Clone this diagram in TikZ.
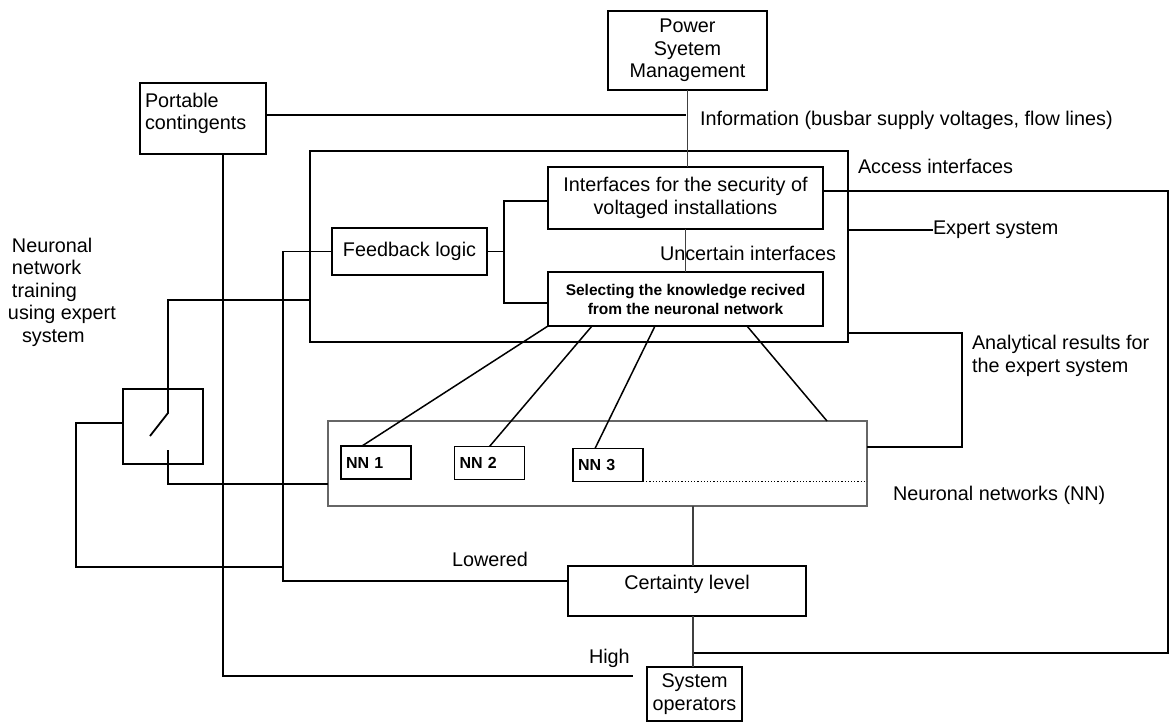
\documentclass[tikz,border=0pt]{standalone}
\usepackage{fontspec}
\setmainfont{Liberation Sans}
\usetikzlibrary{positioning, calc}

\begin{document}
\begin{tikzpicture}[x=1pt, y=-1pt,
    every node/.style={font=\fontsize{19.8}{22.5}\selectfont, inner sep=4pt, outer sep=0pt},
    blk/.style={draw, line width=1.8pt},
    nnblk/.style={draw, line width=1.4pt, inner sep=5pt, text width=60pt, minimum height=33pt,
        align=left, font=\fontsize{16}{19}\selectfont\bfseries},
    lbl/.style={anchor=west, inner sep=0pt},
    wire/.style={line width=1.8pt},
    thin/.style={line width=1.2pt, black!75}]
    \useasboundingbox (0,0) rectangle (1172,723);

    % blocks
    \node (pwr) [blk, minimum width=159pt, minimum height=79pt, align=center] at (687.5,50.5) {Power\\Syetem\\Management};
    \node (port) [blk, minimum width=126pt, minimum height=71pt,
        label={[anchor=north west, align=left, inner sep=0pt, xshift=5pt, yshift=-10pt]north west:Portable\\contingents}] at (203,118.5) {};
    \node (es) [blk, minimum width=538pt, minimum height=191pt] at (579,246.5) {};
    \node (iface) [blk, minimum width=275pt, minimum height=62pt, align=center] at (685.5,198) {Interfaces for the security of\\voltaged installations};
    \node (sel) [blk, minimum width=275pt, minimum height=54pt, align=center,
        font=\fontsize{15.5}{19}\selectfont\bfseries] at (685.5,299) {Selecting the knowledge recived\\from the neuronal network};
    \node (fb) [blk, minimum width=155pt, minimum height=47pt] at (409.5,251.5) {Feedback logic};
    \node (nnbox) [draw=black!60, line width=1.2pt, minimum width=539pt, minimum height=85pt] at (597.5,463.5) {};
    \node (nn1) [nnblk] at (376,462.5) {NN 1};
    \node (nn2) [nnblk] at (489.5,463) {NN 2};
    \node (nn3) [nnblk] at (608,465) {NN 3};
    \node (cert) [blk, minimum width=238pt, text height=19pt, text depth=23pt] at (687,591) {Certainty level};
    \node (sysop) [blk, line width=1.3pt, minimum width=95pt, minimum height=54pt, align=center] at (694.5,694) {System\\operators};
    \node (sw) [blk, minimum width=80pt, minimum height=75pt] at (163,426.5) {};

    % texts
    \node (info) [lbl] at (700,120) {Information (busbar supply voltages, flow lines)};
    \node (acc) [lbl] at (858,166) {Access interfaces};
    \node (esl) [lbl] at (933,230) {Expert system};
    \node (unc) [lbl] at (660,253) {Uncertain interfaces};
    \node (anl) [lbl, align=left] at (972,356) {Analytical results for\\the expert system};
    \node (nnl) [lbl] at (893,495) {Neuronal networks (NN)};
    \node (low) [lbl] at (452,559) {Lowered};
    \node (high) [lbl] at (589,658) {High};
    \node (train) [lbl, align=left] at (12,292) {Neuronal\\network\\training\\\hspace*{-4pt}using expert\\\hspace*{10pt}system};

    % junctions
    \coordinate (infoj) at (686,115);
    \coordinate (highend) at (633,676);
    \coordinate (fbj) at (283,251.5);
    \coordinate (loopj) at (283,567);
    \coordinate (swtop) at (168,413);
    \coordinate (swblade) at (150,436);
    \coordinate (swbot) at (168,450);
    \coordinate (brk) at (504,251.5);
    \coordinate (accj) at (1168,191);
    \coordinate (opj) at (693,653);
    \coordinate (anlj) at (962,333);

    % connectors
    \draw [thin] (pwr.south) -- (pwr.south |- iface.north);
    \draw [wire] (port.east |- infoj) -- (infoj);
    \draw [wire] ([xshift=20pt]port.south) |- (highend);
    \draw [wire] (fb.west) -- (fbj) |- ([yshift=10pt]cert.west);
    \draw [wire] ([yshift=3.5pt]sw.west) -- ++(-47,0) |- (loopj);
    \draw [wire] ([yshift=-53.5pt]es.west) -| (swtop) -- (swblade);
    \draw [wire] (swbot) |- ([yshift=-20.5pt]nnbox.west);
    \draw [wire] (fb.east) -- (brk);
    \draw [wire] ([yshift=-3pt]iface.west) -| (brk);
    \draw [line width=2.4pt] (brk) |- ([yshift=-4pt]sel.west);
    \draw [thin] (iface.south) -- (sel.north);
    \draw [line width=1.5pt]
        (sel.south west) edge ([xshift=-14pt]nn1.north)
        ([xshift=-93.5pt]sel.south) edge (nn2.north)
        ([xshift=-30.5pt]sel.south) edge ([xshift=-13pt]nn3.north)
        ([xshift=61.5pt]sel.south) edge ([xshift=229.5pt]nnbox.north);
    \draw [wire] ([yshift=16.5pt]es.east) -- (esl.west);
    \draw [wire] ([yshift=7pt]iface.east) -- (accj) |- (opj);
    \draw [wire] ([yshift=-86.5pt]es.east) -- (anlj) |- ([yshift=16.5pt]nnbox.east);
    \draw [dotted, line width=1.2pt] (nn3.south east) -- (nn3.south east -| nnbox.east);
    \draw [thin] (nnbox.south -| opj) -- (cert.north -| opj);
    \draw [thin] (cert.south -| opj) -- (sysop.north -| opj);
\end{tikzpicture}
\end{document}
